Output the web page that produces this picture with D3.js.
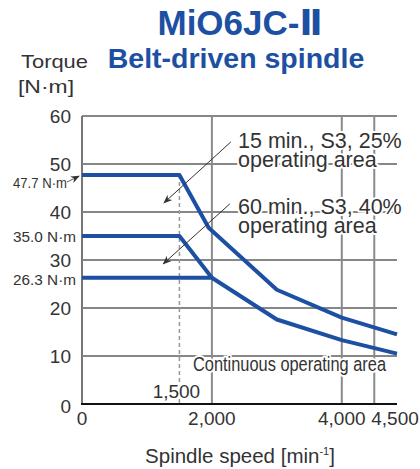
<!DOCTYPE html>
<html>
<head>
<meta charset="utf-8">
<script src="https://cdn.jsdelivr.net/npm/d3@7"></script>
<style>
  body { margin: 0; background: #fff; }
  svg { display: block; font-family: "Liberation Sans", Arial, sans-serif; }
  .tick-label { font-size: 19px; fill: #333; }
  .halo { stroke: #fff; stroke-width: 4px; paint-order: stroke; stroke-linejoin: round; }
</style>
</head>
<body>
<div id="chart"></div>
<script>
// 数据
var speeds15 = [0, 1500, 1950, 3000, 4000, 4850];
var torque15 = [47.7, 47.7, 36.7, 23.8, 18.0, 14.5];
var speeds60 = [0, 1500, 2000];
var torque60 = [35.0, 35.0, 26.3];
var speedsCont = [0, 2000, 3000, 4000, 4850];
var torqueCont = [26.3, 26.3, 17.6, 13.3, 10.5];

var yTicks = [0, 10, 20, 30, 40, 50, 60];
var xTicks = [0, 2000, 4000, 4500];
var xTickLabels = ['0', '2,000', '4,000', '4,500'];
var xGrid = [2000, 4000, 4500];
var torqueMarks = [47.7, 35.0, 26.3];
var torqueMarkLabels = ['47.7 N\u00b7m', '35.0 N\u00b7m', '26.3 N\u00b7m'];
var baseSpeed = 1500;

var WIDTH = 420, HEIGHT = 469;
var BLUE = '#1d50a2';

var svg = d3.select('#chart').append('svg')
    .attr('width', WIDTH)
    .attr('height', HEIGHT);

var defs = svg.append('defs');
defs.append('marker')
    .attr('id', 'arrow')
    .attr('viewBox', '0 0 10 10')
    .attr('refX', 9).attr('refY', 5)
    .attr('markerWidth', 9).attr('markerHeight', 9)
    .attr('markerUnits', 'userSpaceOnUse')
    .attr('orient', 'auto')
    .append('path')
    .attr('d', 'M0,1 L10,5 L0,9 L3,5 Z')
    .attr('fill', '#333');

var x = d3.scaleLinear().domain([0, 4850]).range([82, 397]);
var y = d3.scaleLinear().domain([0, 60]).range([404, 116]);

// 标题
var t1 = svg.append('text')
    .attr('x', 240).attr('y', 35)
    .attr('text-anchor', 'middle')
    .attr('font-size', 35).attr('font-weight', 'bold')
    .attr('fill', BLUE);
t1.append('tspan').text('MiO6JC-');
t1.append('tspan').attr('font-family', '"DejaVu Sans", sans-serif').text('\u2161');
svg.append('text')
    .attr('x', 236).attr('y', 68)
    .attr('text-anchor', 'middle')
    .attr('font-size', 28.5).attr('font-weight', 'bold')
    .attr('fill', BLUE)
    .text('Belt-driven spindle');

// 轴标题
svg.append('text')
    .attr('x', 21).attr('y', 68)
    .attr('font-size', 19).attr('fill', '#333')
    .attr('textLength', 67).attr('lengthAdjust', 'spacingAndGlyphs')
    .text('Torque');
svg.append('text')
    .attr('x', 18).attr('y', 93)
    .attr('font-size', 19).attr('fill', '#333')
    .attr('textLength', 56).attr('lengthAdjust', 'spacingAndGlyphs')
    .text('[N\u00b7m]');

var xt = svg.append('text')
    .attr('x', 240).attr('y', 463)
    .attr('text-anchor', 'middle')
    .attr('font-size', 20.5).attr('fill', '#333');
xt.append('tspan').text('Spindle speed [min');
xt.append('tspan').attr('font-size', 11).attr('dy', -8).text('-1');
xt.append('tspan').attr('dy', 8).text(']');

// 网格
var grid = svg.append('g');
grid.selectAll('line.h')
    .data(yTicks.filter(d => d > 0))
    .enter().append('line')
    .attr('x1', x(0)).attr('x2', x.range()[1])
    .attr('y1', d => y(d)).attr('y2', d => y(d))
    .attr('stroke', '#111').attr('stroke-width', 1);
grid.selectAll('line.v')
    .data(xGrid)
    .enter().append('line')
    .attr('x1', d => x(d)).attr('x2', d => x(d))
    .attr('y1', y(60)).attr('y2', y(0))
    .attr('stroke', '#8a8a8a').attr('stroke-width', 2);
// 1500 虚线
grid.append('line')
    .attr('x1', x(baseSpeed)).attr('x2', x(baseSpeed))
    .attr('y1', y(torque15[1])).attr('y2', y(0))
    .attr('stroke', '#999').attr('stroke-width', 1.5)
    .attr('stroke-dasharray', '4,3');
// 坐标轴
grid.append('line')
    .attr('x1', x(0)).attr('x2', x(0))
    .attr('y1', y(60)).attr('y2', y(0))
    .attr('stroke', '#777').attr('stroke-width', 2);
grid.append('line')
    .attr('x1', x(0) - 1).attr('x2', x.range()[1])
    .attr('y1', y(0)).attr('y2', y(0))
    .attr('stroke', '#111').attr('stroke-width', 2);

// 刻度
svg.selectAll('text.ytick')
    .data(yTicks)
    .enter().append('text')
    .attr('class', 'tick-label')
    .attr('x', 71)
    .attr('y', d => y(d) + (d === 0 ? 2 : 0))
    .attr('dy', '0.36em')
    .attr('text-anchor', 'end')
    .text(d => d);
svg.selectAll('text.xtick')
    .data(xTicks)
    .enter().append('text')
    .attr('class', 'tick-label')
    .attr('x', (d, i) => d === 4500 ? x(d) - 3 : x(d))
    .attr('y', 425)
    .attr('text-anchor', d => d === 4500 ? 'start' : 'middle')
    .text((d, i) => xTickLabels[i]);

// 曲线
var line = d3.line().x(d => x(d[0])).y(d => y(d[1]));
var curves = [
    d3.zip(speeds15, torque15),
    d3.zip(speeds60, torque60),
    d3.zip(speedsCont, torqueCont)
];
svg.append('g').selectAll('path')
    .data(curves)
    .enter().append('path')
    .attr('d', line)
    .attr('fill', 'none')
    .attr('stroke', BLUE)
    .attr('stroke-width', 4)
    .attr('stroke-linejoin', 'round');

// 扭矩标签 (窄字体用 textLength 压缩)
svg.selectAll('text.tq')
    .data(torqueMarks)
    .enter().append('text')
    .attr('x', 13)
    .attr('y', (d, i) => i === 0 ? y(d) + 8 : y(d) + (i === 2 ? 1.5 : 0))
    .attr('dy', '0.36em')
    .attr('font-size', (d, i) => i === 0 ? 14.5 : 15.5)
    .attr('fill', '#333')
    .attr('textLength', (d, i) => i === 0 ? 54 : 63)
    .attr('lengthAdjust', 'spacingAndGlyphs')
    .text((d, i) => torqueMarkLabels[i]);
svg.append('line')
    .attr('x1', 67).attr('y1', y(47.7) + 7)
    .attr('x2', 79).attr('y2', y(47.7) + 1)
    .attr('stroke', '#333').attr('stroke-width', 0.8)
    .attr('marker-end', 'url(#arrow)');

// 注释引线
var leaders = [
    [[2292, 54.6], [1262, 41.9]],
    [[2277, 41.7], [1251, 29.2]]
];
svg.selectAll('line.leader')
    .data(leaders)
    .enter().append('line')
    .attr('x1', d => x(d[0][0])).attr('y1', d => y(d[0][1]))
    .attr('x2', d => x(d[1][0])).attr('y2', d => y(d[1][1]))
    .attr('stroke', '#333').attr('stroke-width', 1)
    .attr('marker-end', 'url(#arrow)');

// 注释文字
var notes = [
    ['15 min., S3, 25%', 'operating area'],
    ['60 min., S3, 40%', 'operating area']
];
var notesY = [147.5, 214];
notes.forEach(function (lines, k) {
    var t = svg.append('text')
        .attr('class', 'halo')
        .attr('x', 238).attr('y', notesY[k])
        .attr('font-size', 21.5).attr('fill', '#333');
    lines.forEach(function (s, j) {
        t.append('tspan').attr('x', 238).attr('dy', j === 0 ? 0 : 19).text(s);
    });
});

svg.append('text')
    .attr('class', 'halo')
    .attr('x', 193).attr('y', 371)
    .attr('font-size', 20.5).attr('fill', '#333')
    .attr('textLength', 193).attr('lengthAdjust', 'spacingAndGlyphs')
    .text('Continuous operating area');

svg.append('text')
    .attr('class', 'tick-label halo')
    .attr('x', x(baseSpeed) - 3).attr('y', 398)
    .attr('text-anchor', 'middle')
    .text('1,500');
</script>
</body>
</html>
